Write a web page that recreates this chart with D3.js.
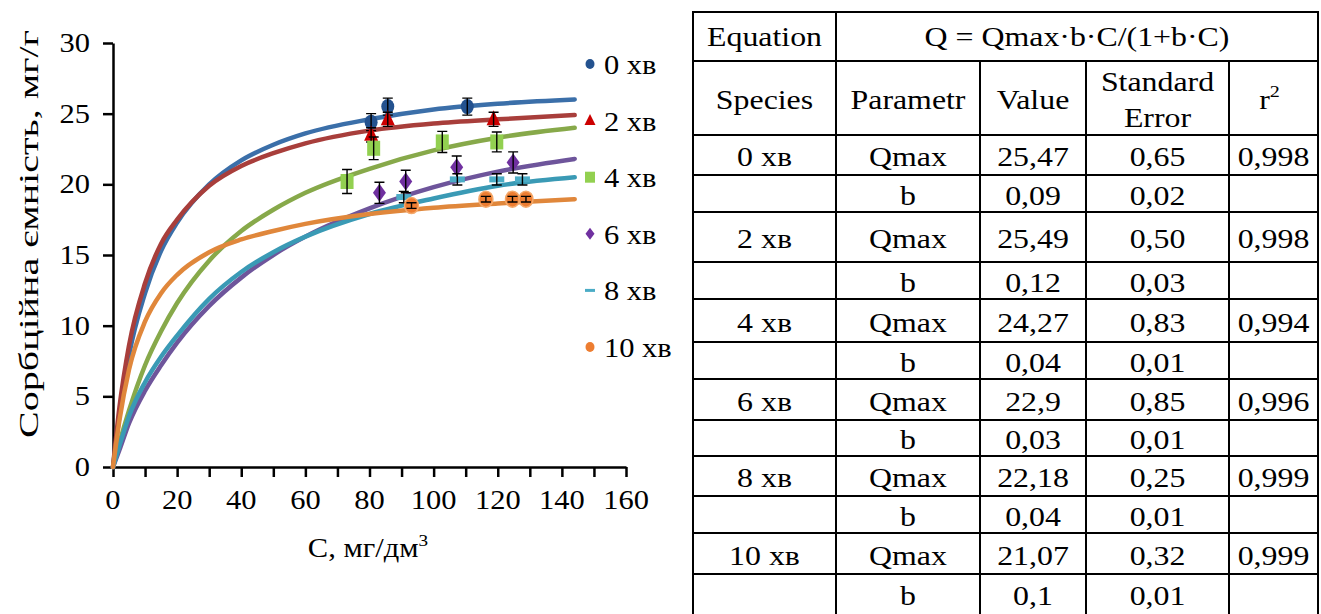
<!DOCTYPE html>
<html>
<head>
<meta charset="utf-8">
<script src="https://cdn.jsdelivr.net/npm/d3@7"></script>
<style>
  body { margin: 0; background: #fff; }
  text { font-family: "Liberation Serif", "Times New Roman", serif; fill: #000; }
</style>
</head>
<body>
<script>
// series
const seriesNames = ['0 хв', '2 хв', '4 хв', '6 хв', '8 хв', '10 хв'];
const lineColors = ['#3b6fa9', '#a83e3b', '#87a94a', '#6e559b', '#3a9ab5', '#e0873b'];
const markColors = ['#24528f', '#cc0000', '#92d050', '#7030a0', '#4bacc6', '#ed7d31'];
const markTypes = ['circle', 'triangle', 'square', 'diamond', 'dash', 'circle'];

// fitted curves (C values shared)
const curveC = [0, 2, 5, 10, 15, 20, 30, 40, 50, 60, 80, 100, 120, 144];
const curve0 = [0, 3.6, 7.9, 12.3, 15.3, 17.3, 20.0, 21.7, 22.8, 23.6, 24.6, 25.3, 25.7, 26.0];
const curve2 = [0, 4.2, 8.6, 13.0, 15.8, 17.5, 19.9, 21.3, 22.2, 22.9, 23.8, 24.3, 24.6, 24.9];
const curve4 = [0, 1.7, 4.0, 7.2, 9.6, 11.6, 14.6, 16.7, 18.2, 19.4, 21.1, 22.4, 23.3, 24.0];
const curve6 = [0, 1.2, 3.1, 5.4, 7.2, 8.8, 11.4, 13.4, 15.0, 16.3, 18.3, 19.8, 20.9, 21.8];
const curve8 = [0, 1.5, 3.6, 6.0, 7.8, 9.3, 11.9, 13.8, 15.2, 16.3, 17.9, 19.0, 19.9, 20.5];
const curve10 = [0, 3.3, 6.9, 10.3, 12.3, 13.6, 15.2, 16.1, 16.7, 17.2, 17.9, 18.35, 18.65, 18.95];
const curves = [curve0, curve2, curve4, curve6, curve8, curve10];

// measured points with error bars
const pointC = [
  [80.5, 85.7, 110.5],
  [80.5, 85.7, 118.7],
  [73.0, 81.3, 102.7, 119.7],
  [83.1, 91.3, 107.2, 124.8],
  [90.7, 107.4, 119.7, 127.7],
  [93.1, 116.3, 124.6, 128.8]
];
const pointQ = [
  [24.4, 25.5, 25.5],
  [23.5, 24.6, 24.6],
  [20.2, 22.55, 23.0, 23.0],
  [19.4, 20.2, 21.2, 21.55],
  [19.1, 20.35, 20.35, 20.35],
  [18.5, 18.95, 18.95, 18.95]
];
const pointErr = [
  [0.6, 0.6, 0.6],
  [0.5, 0.5, 0.5],
  [0.85, 0.8, 0.75, 0.7],
  [0.75, 0.8, 0.8, 0.75],
  [0.4, 0.4, 0.4, 0.4],
  [0.2, 0.2, 0.2, 0.2]
];

// table
const tblSpecies = ['0 хв', '', '2 хв', '', '4 хв', '', '6 хв', '', '8 хв', '', '10 хв', ''];
const tblParam = ['Qmax', 'b', 'Qmax', 'b', 'Qmax', 'b', 'Qmax', 'b', 'Qmax', 'b', 'Qmax', 'b'];
const tblValue = ['25,47', '0,09', '25,49', '0,12', '24,27', '0,04', '22,9', '0,03', '22,18', '0,04', '21,07', '0,1'];
const tblError = ['0,65', '0,02', '0,50', '0,03', '0,83', '0,01', '0,85', '0,01', '0,25', '0,01', '0,32', '0,01'];
const tblR2 = ['0,998', '', '0,998', '', '0,994', '', '0,996', '', '0,999', '', '0,999', ''];

var svg = d3.select('body').append('svg').attr('width', 1321).attr('height', 614);

var SX = 1.13; // glyphs in the chart are a bit wide
function label(g, x, y, str, size, anchor, sx) {
  return g.append('text')
    .attr('transform', 'translate(' + x + ',' + y + ') scale(' + sx + ',1)')
    .attr('text-anchor', anchor)
    .style('font-size', size + 'px')
    .text(str);
}

var x = d3.scaleLinear().domain([0, 160]).range([113, 626]);
var y = d3.scaleLinear().domain([0, 30]).range([467, 43]);

// axes
svg.append('g')
  .attr('transform', 'translate(' + x(0) + ',0)')
  .call(d3.axisLeft(y).tickValues(d3.range(0, 31, 5)).tickSize(10).tickSizeOuter(0).tickFormat(''));
svg.append('g')
  .attr('transform', 'translate(0,' + y(0) + ')')
  .call(d3.axisBottom(x).tickValues(d3.range(0, 161, 10)).tickSize(10).tickSizeOuter(0).tickFormat(''));
svg.selectAll('.domain, .tick line').attr('stroke', '#000').attr('stroke-width', 2.5);

d3.range(0, 31, 5).forEach(function (v) {
  label(svg, 90, y(v) + 9, String(v), 27, 'end', SX);
});
d3.range(0, 161, 20).forEach(function (v) {
  label(svg, x(v), 509, String(v), 27, 'middle', SX);
});

var xt = label(svg, 368, 557, 'C, мг/дм', 27, 'middle', SX);
xt.append('tspan').attr('dy', -11).style('font-size', '17px').text('3');

svg.append('text')
  .attr('transform', 'translate(38,234) rotate(-90)')
  .attr('text-anchor', 'middle')
  .attr('textLength', 408)
  .attr('lengthAdjust', 'spacingAndGlyphs')
  .style('font-size', '27px')
  .text('Сорбційна ємність, мг/г');

// curves
var line = d3.line()
  .x(function (d) { return x(d[0]); })
  .y(function (d) { return y(d[1]); })
  .curve(d3.curveMonotoneX);
curves.forEach(function (q, i) {
  svg.append('path')
    .datum(curveC.map(function (c, j) { return [c, q[j]]; }))
    .attr('d', line)
    .attr('fill', 'none')
    .attr('stroke', lineColors[i])
    .attr('stroke-width', 4.5)
    .attr('stroke-linecap', 'round');
});

function marker(g, type, cx, cy, w, h, color) {
  if (type == 'circle') {
    return g.append('ellipse').attr('cx', cx).attr('cy', cy).attr('rx', w / 2).attr('ry', h / 2)
      .attr('fill', color);
  }
  var p;
  if (type == 'triangle') {
    p = 'M' + cx + ',' + (cy - h * 0.6) + 'L' + (cx + w / 2) + ',' + (cy + h * 0.4) + 'L' + (cx - w / 2) + ',' + (cy + h * 0.4) + 'Z';
  } else if (type == 'diamond') {
    p = 'M' + cx + ',' + (cy - h / 2) + 'L' + (cx + w / 2) + ',' + cy + 'L' + cx + ',' + (cy + h / 2) + 'L' + (cx - w / 2) + ',' + cy + 'Z';
  } else {
    p = 'M' + (cx - w / 2) + ',' + (cy - h / 2) + 'h' + w + 'v' + h + 'h' + (-w) + 'Z';
  }
  return g.append('path').attr('d', p).attr('fill', color);
}

var sizes = [[13, 15], [14, 15], [13, 15], [13, 18], [15, 6], [14, 16]];
var legSizes = [[9, 10], [11, 11], [10, 11], [9, 12], [10, 3], [9, 10]];

// points + error bars
pointC.forEach(function (cs, i) {
  var g = svg.append('g');
  cs.forEach(function (c, j) {
    var m = marker(g, markTypes[i], x(c), y(pointQ[i][j]), sizes[i][0], sizes[i][1], markColors[i]);
    if (i == 5) m.attr('stroke', '#f4a86a').attr('stroke-width', 1.5);
  });
  cs.forEach(function (c, j) {
    var q = pointQ[i][j], e = pointErr[i][j];
    g.append('path')
      .attr('d', 'M' + x(c) + ',' + y(q - e) + 'V' + y(q + e) +
        'M' + (x(c) - 5) + ',' + y(q - e) + 'h10' +
        'M' + (x(c) - 5) + ',' + y(q + e) + 'h10')
      .attr('stroke', '#000').attr('stroke-width', 1.4).attr('fill', 'none');
  });
});

// legend
seriesNames.forEach(function (n, i) {
  var ly = 64 + i * 56.6;
  marker(svg, markTypes[i], 590, ly, legSizes[i][0], legSizes[i][1], markColors[i]);
  label(svg, 604, ly + 10, n, 27, 'start', SX);
});

// table
var TX = 1.18;
var colX = [693, 836, 980, 1086, 1229, 1318];
var rowY = [12, 61, 135, 175, 212, 262, 299, 342, 379, 420, 456, 496, 533, 574, 622];
var tg = svg.append('g');
tg.append('rect').attr('x', colX[0]).attr('y', rowY[0]).attr('width', colX[5] - colX[0]).attr('height', rowY[14] - rowY[0])
  .attr('fill', 'none').attr('stroke', '#000').attr('stroke-width', 2);
rowY.slice(1, 14).forEach(function (ry) {
  tg.append('line').attr('x1', colX[0]).attr('x2', colX[5]).attr('y1', ry).attr('y2', ry)
    .attr('stroke', '#000').attr('stroke-width', 2);
});
tg.append('line').attr('x1', colX[1]).attr('x2', colX[1]).attr('y1', rowY[0]).attr('y2', rowY[14])
  .attr('stroke', '#000').attr('stroke-width', 2);
[2, 3, 4].forEach(function (k) {
  tg.append('line').attr('x1', colX[k]).attr('x2', colX[k]).attr('y1', rowY[1]).attr('y2', rowY[14])
    .attr('stroke', '#000').attr('stroke-width', 2);
});
function mid(k) { return (colX[k] + colX[k + 1]) / 2; }
label(tg, mid(0), 46, 'Equation', 27, 'middle', TX);
label(tg, (colX[1] + colX[5]) / 2, 46, 'Q = Qmax·b·C/(1+b·C)', 27, 'middle', TX);
label(tg, mid(0), 109, 'Species', 27, 'middle', TX);
label(tg, mid(1), 109, 'Parametr', 27, 'middle', TX);
label(tg, mid(2), 109, 'Value', 27, 'middle', TX);
label(tg, mid(3), 91, 'Standard', 27, 'middle', TX);
label(tg, mid(3), 127, 'Error', 27, 'middle', TX);
var r2 = label(tg, mid(4) - 4, 109, 'r', 27, 'middle', TX);
r2.append('tspan').attr('dy', -12).style('font-size', '17px').text('2');

var cols = [tblSpecies, tblParam, tblValue, tblError, tblR2];
tblParam.forEach(function (p, r) {
  var cy = (rowY[r + 2] + Math.min(rowY[r + 3], 614)) / 2 + 11;
  cols.forEach(function (col, k) {
    if (col[r] !== '') label(tg, mid(k), cy, col[r], 27, 'middle', TX);
  });
});
</script>
</body>
</html>
